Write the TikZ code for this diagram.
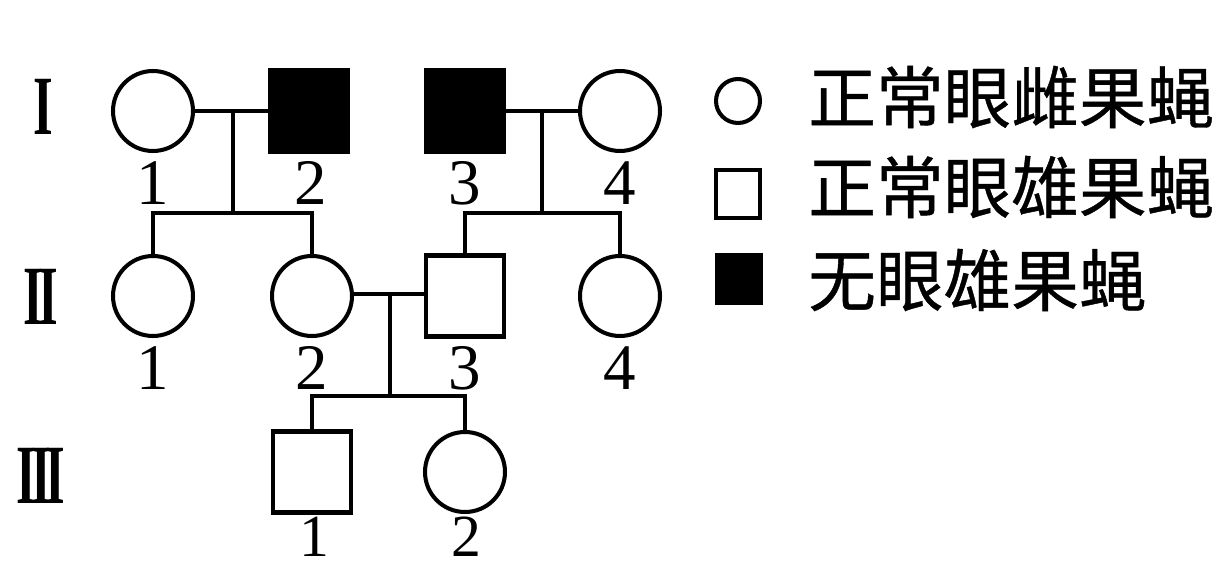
\documentclass[tikz,border=0pt]{standalone}
\usepackage{fontspec}
\setmainfont{Liberation Serif}
\newfontfamily\cjk[FakeBold=0.6]{Noto Sans CJK SC}
\usepackage{graphicx}
\begin{document}
\begin{tikzpicture}[x=0.02cm,y=-0.02cm,
  ln/.style={line width=2.3pt},
  fem/.style={circle, draw, ln, minimum size=1.6cm, inner sep=0pt},
  mal/.style={rectangle, draw, ln, minimum width=1.56cm, minimum height=1.62cm, inner sep=0pt},
  affm/.style={mal, fill=black},
  num/.style={font=\fontsize{37}{37}\selectfont, inner sep=0pt},
  numb/.style={font=\fontsize{34}{34}\selectfont, inner sep=0pt},
  gen/.style={font=\fontsize{48}{48}\selectfont\bfseries, inner sep=0pt},
  lgtxt/.style={font=\cjk\fontsize{38.5}{40}\selectfont, anchor=west, inner sep=0pt},
  lgf/.style={circle, draw, ln, minimum size=0.88cm, inner sep=0pt},
  lgm/.style={rectangle, draw, ln, minimum width=0.88cm, minimum height=0.96cm, inner sep=0pt}
]
\useasboundingbox[fill=white] (0,0) rectangle (1216,570);

% generation labels
\node[gen] (gI) at (43,107) {\scalebox{0.6}[1]{I}};
\node[gen] (gII) at (41,297) {\scalebox{0.6}[1]{I\kern-.1em I}};
\node[gen] (gIII) at (41,476) {\scalebox{0.6}[1]{I\kern-.1em I\kern-.1em I}};

% generation I
\node[fem] (I1) at (153,111) {};
\node[affm] (I2) at (309,111) {};
\node[affm] (I3) at (465,111) {};
\node[fem] (I4) at (620,111) {};
\node[num] (nI1) at (153,183) {1};
\node[num] (nI2) at (311,183) {2};
\node[num] (nI3) at (465,183) {3};
\node[num] (nI4) at (620,183) {4};

% generation II
\node[fem] (II1) at (153,296) {};
\node[fem] (II2) at (312,296) {};
\node[mal] (II3) at (465,296) {};
\node[fem] (II4) at (620,296) {};
\node[num] (nII1) at (153,368) {1};
\node[num] (nII2) at (312,368) {2};
\node[num] (nII3) at (465,368) {3};
\node[num] (nII4) at (620,368) {4};

% generation III
\node[mal] (III1) at (312,472) {};
\node[fem] (III2) at (465,472) {};
\node[numb] (nIII1) at (314,537) {1};
\node[numb] (nIII2) at (466,537) {2};

% couple I1 x I2
\coordinate (m1) at (233,111);
\coordinate (s1) at (233,213);
\draw[ln] (I1) -- (I2);
\draw[ln] (m1) -- (s1);
\draw[ln] (II1.north) -- (II1.north |- s1) -- (II2.north |- s1) -- (II2.north);

% couple I3 x I4
\coordinate (m2) at (542,111);
\coordinate (s2) at (542,213);
\draw[ln] (I3) -- (I4);
\draw[ln] (m2) -- (s2);
\draw[ln] (II3.north) -- (II3.north |- s2) -- (II4.north |- s2) -- (II4.north);

% couple II2 x II3
\coordinate (m3) at (390,294);
\coordinate (s3) at (390,396);
\draw[ln] (II2.east |- m3) -- (II3.west |- m3);
\draw[ln] (m3) -- (s3);
\draw[ln] (III1.north) -- (III1.north |- s3) -- (III2.north |- s3) -- (III2.north);

% legend
\node[lgf] (L1) at (738,101) {};
\node[lgm] (L2) at (738,194) {};
\node[lgm, fill=black] (L3) at (739,279) {};
\node[lgtxt] (T1) at (808,97) {正常眼雌果蝇};
\node[lgtxt] (T2) at (808,187) {正常眼雄果蝇};
\node[lgtxt] (T3) at (808,280) {无眼雄果蝇};
\end{tikzpicture}
\end{document}
